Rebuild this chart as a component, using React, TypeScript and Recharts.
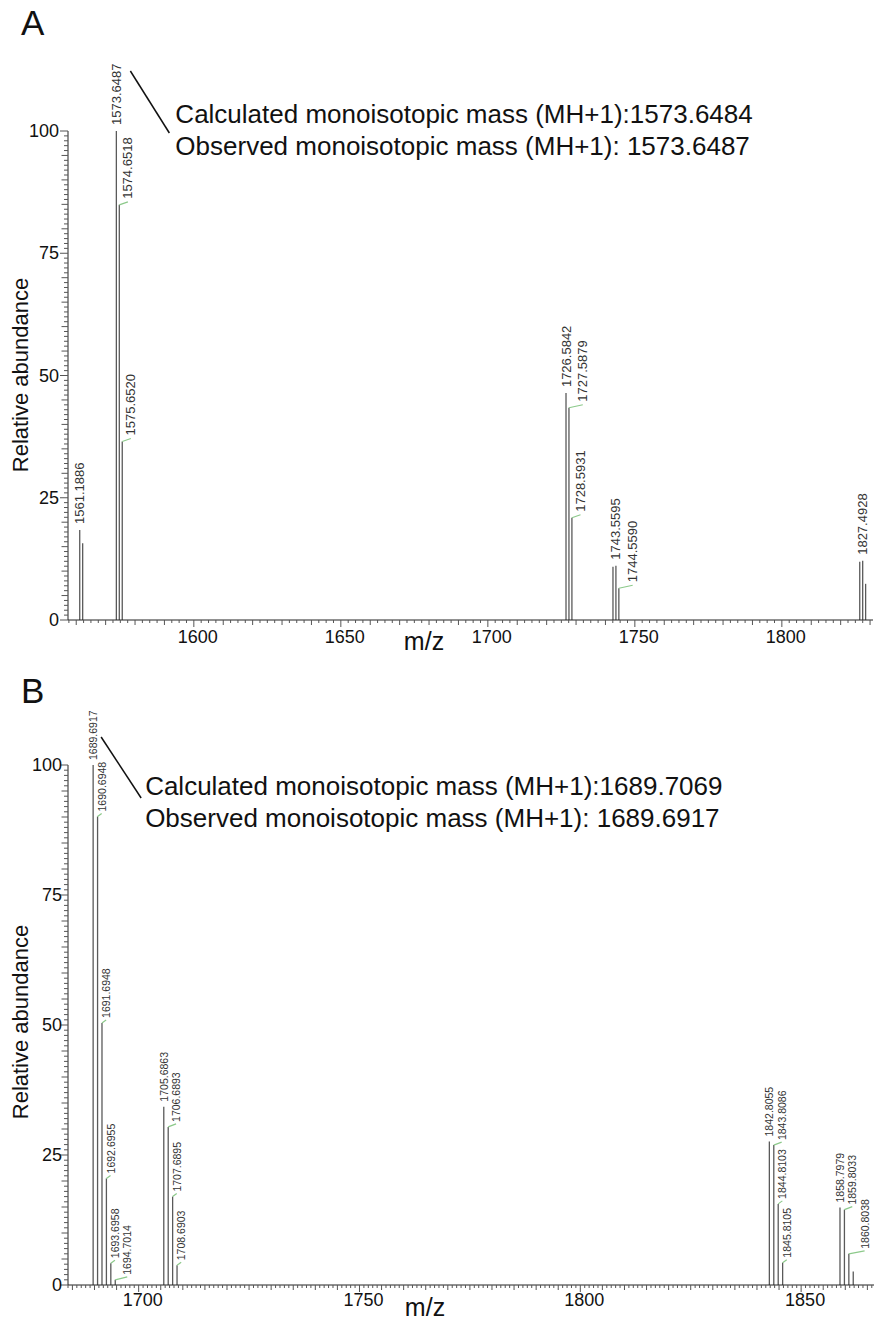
import React from 'react';
import { ComposedChart, XAxis, YAxis, Scatter, ReferenceLine } from 'recharts';

const FONT = '"Liberation Sans", Arial, Helvetica, sans-serif';

// Panel A spectrum
const aMz = [1561.1886, 1562.19, 1573.6487, 1574.6518, 1575.652, 1726.5842, 1727.5879, 1728.5931, 1742.56, 1743.5595, 1744.559, 1826.49, 1827.4928, 1828.49];
const aAbundance = [18.4, 15.7, 100, 84.9, 36.5, 46.4, 43.4, 20.9, 10.9, 11.1, 6.5, 11.9, 12.1, 7.4];
const aLabels = ['1561.1886', '', '1573.6487', '1574.6518', '1575.6520', '1726.5842', '1727.5879', '1728.5931', '', '1743.5595', '1744.5590', '', '1827.4928', ''];
const aNoteMz = 1573.6487;
const aNote = ['Calculated monoisotopic mass (MH+1):1573.6484', 'Observed monoisotopic mass (MH+1): 1573.6487'];
const aTicks = [1600, 1650, 1700, 1750, 1800];

// Panel B spectrum
const bMz = [1689.6917, 1690.6948, 1691.6948, 1692.6955, 1693.6958, 1694.7014, 1705.6863, 1706.6893, 1707.6895, 1708.6903, 1842.8055, 1843.8086, 1844.8103, 1845.8105, 1858.7979, 1859.8033, 1860.8038, 1861.8];
const bAbundance = [100, 90.1, 50.4, 20.5, 4.2, 1.0, 34.3, 30.4, 17.0, 3.8, 27.6, 26.9, 15.6, 4.3, 14.9, 14.5, 6.0, 2.6];
const bLabels = ['1689.6917', '1690.6948', '1691.6948', '1692.6955', '1693.6958', '1694.7014', '1705.6863', '1706.6893', '1707.6895', '1708.6903', '1842.8055', '1843.8086', '1844.8103', '1845.8105', '1858.7979', '1859.8033', '1860.8038', ''];
const bNoteMz = 1689.6917;
const bNote = ['Calculated monoisotopic mass (MH+1):1689.7069', 'Observed monoisotopic mass (MH+1): 1689.6917'];
const bTicks = [1700, 1750, 1800, 1850];

const yLabelTicks = [0, 25, 50, 75, 100];

const panelA = {
  mz: aMz, ab: aAbundance, labels: aLabels, noteMz: aNoteMz, note: aNote, majors: aTicks,
  height: 665, top: 131, xAxisH: 45, right: 3, domain: [1557.2, 1831],
  xMinor: 2.5, xMed: 10, labelFs: 13, labelW: 10.5, gap: 6.3, lift: 6,
  noteLine: [14, -60, 53, 2], noteX: 59, noteY: [-8, 24], tickDy: 23, yLabDx: 9,
};

const panelB = {
  mz: bMz, ab: bAbundance, labels: bLabels, noteMz: bNoteMz, note: bNote, majors: bTicks,
  height: 661, top: 100, xAxisH: 41, right: 2, domain: [1684, 1866.5],
  xMinor: 1, xMed: 5, labelFs: 10.5, labelW: 7.5, gap: 4.8, lift: 5,
  noteLine: [8, -28, 48, 33], noteX: 52, noteY: [30, 62], tickDy: 21, yLabDx: 6,
};

const WIDTH = 876;
const LEFT = 68;

const near = (v: number, step: number) => Math.abs(v / step - Math.round(v / step)) < 1e-6;

const textLen = (s: string, fs: number) =>
  s.split('').reduce((acc, ch) => acc + (ch === '.' ? 0.278 : 0.556), 0) * fs;

// push labels right until they clear taller peaks and other labels
function layoutLabels(cfg: any) {
  const plotW = WIDTH - LEFT - cfg.right;
  const plotH = cfg.height - cfg.top - cfg.xAxisH;
  const kx = plotW / (cfg.domain[1] - cfg.domain[0]);
  const ky = plotH / 100;
  const px = cfg.mz.map((m: number) => (m - cfg.domain[0]) * kx);
  const tops = cfg.ab.map((a: number) => a * ky);
  const w = cfg.labelW;
  const boxes: { c: number; b: number; t: number }[] = [];
  const dx = cfg.mz.map(() => 0);
  const order = cfg.mz.map((_: number, i: number) => i).sort((i: number, j: number) => cfg.mz[i] - cfg.mz[j]);
  order.forEach((i: number) => {
    if (!cfg.labels[i]) return;
    const b = tops[i] + cfg.lift;
    const t = b + textLen(cfg.labels[i], cfg.labelFs);
    let c = px[i];
    let moved = true;
    let guard = 0;
    while (moved && guard < 50) {
      moved = false;
      guard++;
      for (let j = 0; j < px.length; j++) {
        if (j === i || tops[j] <= b) continue;
        if (Math.abs(px[j] - c) < w / 2 + cfg.gap - 1e-6) {
          c = px[j] + w / 2 + cfg.gap;
          moved = true;
        }
      }
      for (const bx of boxes) {
        if (bx.b < t && b < bx.t && Math.abs(bx.c - c) < w + cfg.gap - 1e-6) {
          c = bx.c + w + cfg.gap;
          moved = true;
        }
      }
    }
    boxes.push({ c, b, t });
    dx[i] = c - px[i];
  });
  return dx;
}

const PeakLabel = (props: any) => {
  const { cx, cy, payload, cfg } = props;
  if (cx == null || cy == null) return <g />;
  const label = payload.label;
  const lx = cx + payload.dx;
  return (
    <g>
      {label && payload.dx > 0.5 && (
        <line x1={cx} y1={cy} x2={lx} y2={cy - 3} stroke="#8cc98a" strokeWidth={1.2} />
      )}
      {label && (
        <text
          transform={`translate(${lx},${cy - cfg.lift}) rotate(-90)`}
          fontSize={cfg.labelFs}
          fontFamily={FONT}
          fill="#333"
          dominantBaseline="central"
        >
          {label}
        </text>
      )}
      {payload.isNote && (
        <g fontFamily={FONT} fontSize={26} fill="#111">
          <line
            x1={cx + cfg.noteLine[0]}
            y1={cy + cfg.noteLine[1]}
            x2={cx + cfg.noteLine[2]}
            y2={cy + cfg.noteLine[3]}
            stroke="#111"
            strokeWidth={1.5}
          />
          <text x={cx + cfg.noteX} y={cy + cfg.noteY[0]}>{cfg.note[0]}</text>
          <text x={cx + cfg.noteX} y={cy + cfg.noteY[1]}>{cfg.note[1]}</text>
        </g>
      )}
    </g>
  );
};

const XTick = (props: any) => {
  const { x, y, payload, cfg } = props;
  const v = payload.value;
  const major = cfg.majors.some((m: number) => Math.abs(m - v) < 1e-6);
  const med = near(v, cfg.xMed);
  const len = major ? 7 : med ? 5 : 3;
  return (
    <g>
      <line x1={x} x2={x} y1={y} y2={y + len} stroke="#555" strokeWidth={1} />
      {major && (
        <text x={x + 4} y={y + cfg.tickDy} textAnchor="middle" fontSize={18} fontFamily={FONT} fill="#111">
          {v}
        </text>
      )}
    </g>
  );
};

const YTick = (props: any) => {
  const { x, y, payload, cfg } = props;
  const v = payload.value;
  const major = yLabelTicks.includes(v);
  const med = near(v, 5);
  const len = major ? 8 : med ? 6.5 : 4;
  return (
    <g>
      <line x1={x - len} x2={x} y1={y} y2={y} stroke="#555" strokeWidth={1} />
      {major && (
        <text x={x - cfg.yLabDx} y={y} textAnchor="end" dominantBaseline="central" fontSize={18} fontFamily={FONT} fill="#111">
          {v}
        </text>
      )}
    </g>
  );
};

const Panel = ({ cfg }: { cfg: any }) => {
  const dx = layoutLabels(cfg);
  const rows = cfg.mz.map((m: number, i: number) => ({
    mz: m,
    ab: cfg.ab[i],
    label: cfg.labels[i],
    dx: dx[i],
    isNote: m === cfg.noteMz,
  }));
  const xTicks: number[] = [];
  for (let k = Math.ceil(cfg.domain[0] / cfg.xMinor); k * cfg.xMinor <= cfg.domain[1]; k++) {
    xTicks.push(Math.round(k * cfg.xMinor * 1000) / 1000);
  }
  const yTicks: number[] = [];
  for (let v = 0; v <= 100; v++) yTicks.push(v);

  return (
    <ComposedChart
      width={WIDTH}
      height={cfg.height}
      margin={{ top: cfg.top, right: cfg.right, bottom: 0, left: 8 }}
      data={rows}
    >
      <XAxis
        type="number"
        dataKey="mz"
        domain={cfg.domain}
        ticks={xTicks}
        interval={0}
        tickLine={false}
        tickSize={0}
        tickMargin={0}
        height={cfg.xAxisH}
        axisLine={{ stroke: '#222', strokeWidth: 1 }}
        tick={(p: any) => <XTick {...p} cfg={cfg} />}
      />
      <YAxis
        type="number"
        dataKey="ab"
        domain={[0, 100]}
        ticks={yTicks}
        interval={0}
        tickLine={false}
        tickSize={0}
        tickMargin={0}
        width={LEFT - 8}
        axisLine={{ stroke: '#222', strokeWidth: 1 }}
        tick={(p: any) => <YTick {...p} cfg={cfg} />}
      />
      {rows.map((r: any) => (
        <ReferenceLine
          key={r.mz}
          segment={[{ x: r.mz, y: 0 }, { x: r.mz, y: r.ab }]}
          stroke="#5a5a5a"
          strokeWidth={1.3}
          ifOverflow="visible"
        />
      ))}
      <Scatter
        data={rows}
        dataKey="ab"
        isAnimationActive={false}
        shape={(p: any) => <PeakLabel {...p} cfg={cfg} />}
      />
    </ComposedChart>
  );
};

export default function App() {
  return (
    <div style={{ position: 'absolute', left: 0, top: 0, width: WIDTH, height: 1326, background: '#fff' }}>
      <div style={{ position: 'absolute', left: 0, top: 0 }}>
        <Panel cfg={panelA} />
      </div>
      <div style={{ position: 'absolute', left: 0, top: 665 }}>
        <Panel cfg={panelB} />
      </div>
      <svg width={WIDTH} height={1326} style={{ position: 'absolute', left: 0, top: 0, pointerEvents: 'none' }} fontFamily={FONT} fill="#111">
        <text x={21} y={35} fontSize={35}>A</text>
        <text x={21} y={703} fontSize={35}>B</text>
        <text x={28} y={375} fontSize={22} textAnchor="middle" transform="rotate(-90 28 375)">Relative abundance</text>
        <text x={28} y={1022} fontSize={22} textAnchor="middle" transform="rotate(-90 28 1022)">Relative abundance</text>
        <text x={424} y={650} fontSize={25} textAnchor="middle">m/z</text>
        <text x={425} y={1316} fontSize={25} textAnchor="middle">m/z</text>
      </svg>
    </div>
  );
}
